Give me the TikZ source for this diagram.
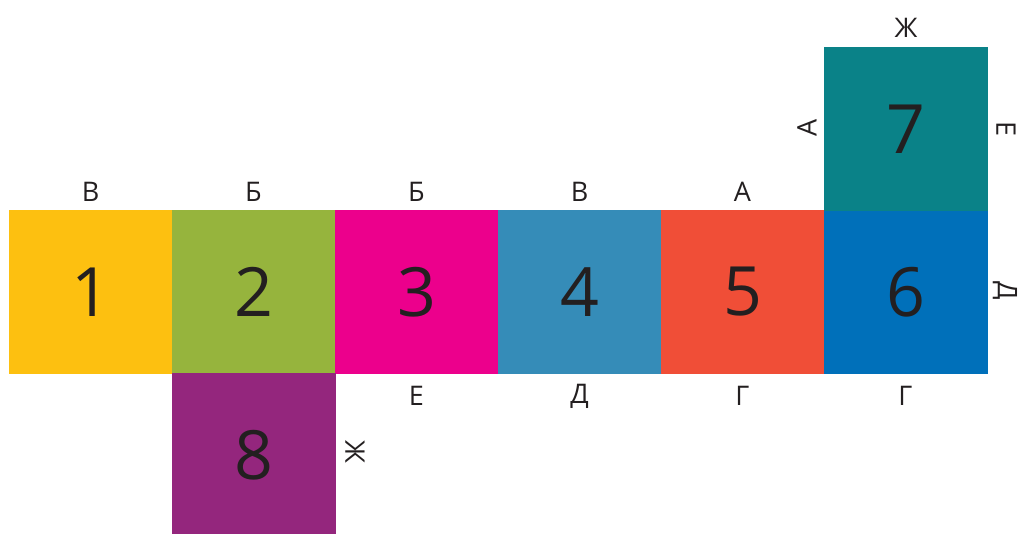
\documentclass[tikz,border=0pt]{standalone}
\usepackage{fontspec}
\setmainfont{Open Sans}
\definecolor{c1}{HTML}{FDC010}
\definecolor{c2}{HTML}{96B43D}
\definecolor{c3}{HTML}{EC008C}
\definecolor{c4}{HTML}{358CB8}
\definecolor{c5}{HTML}{F04E37}
\definecolor{c6}{HTML}{0070BA}
\definecolor{c7}{HTML}{0A8288}
\definecolor{c8}{HTML}{94267D}
\definecolor{ink}{HTML}{231F20}
\begin{document}
\begin{tikzpicture}[x=1pt,y=-1pt,
  face/.style={draw=none,minimum width=163.5pt,minimum height=163.5pt,inner sep=0pt,anchor=north west,text=ink,font=\fontsize{68}{68}\selectfont},
  lbl/.style={text=ink,font=\fontsize{27}{27}\selectfont,inner sep=0pt}]
\useasboundingbox (0,0) rectangle (1025,533);
\node[face,fill=c1] (s1) at (9,210) {1};
\node[face,fill=c2] (s2) at (172,210) {2};
\node[face,fill=c3] (s3) at (335,210) {3};
\node[face,fill=c4] (s4) at (498,210) {4};
\node[face,fill=c5] (s5) at (661,210) {5};
\node[face,fill=c6] (s6) at (824,210) {6};
\node[face,fill=c7] (s7) at (824,47) {7};
\node[face,fill=c8] (s8) at (172,373) {8};
\node[lbl] (t1) at (90.5,192) {В};
\node[lbl] (t2) at (253.5,192) {Б};
\node[lbl] (t3) at (416.5,192) {Б};
\node[lbl] (t4) at (579.5,192) {В};
\node[lbl] (t5) at (742.5,192) {А};
\node[lbl] (b3) at (416.5,396) {Е};
\node[lbl] (b4) at (579.5,396) {Д};
\node[lbl] (b5) at (742.5,396) {Г};
\node[lbl] (b6) at (905.5,396) {Г};
\node[lbl] (t7) at (906,28) {Ж};
\node[lbl,rotate=90] (l7) at (807,128) {А};
\node[lbl,rotate=-90] (r7) at (1006,129) {Е};
\node[lbl,rotate=-90] (r6) at (1005,291) {Д};
\node[lbl,rotate=-90] (r8) at (355,452) {Ж};
\end{tikzpicture}
\end{document}
